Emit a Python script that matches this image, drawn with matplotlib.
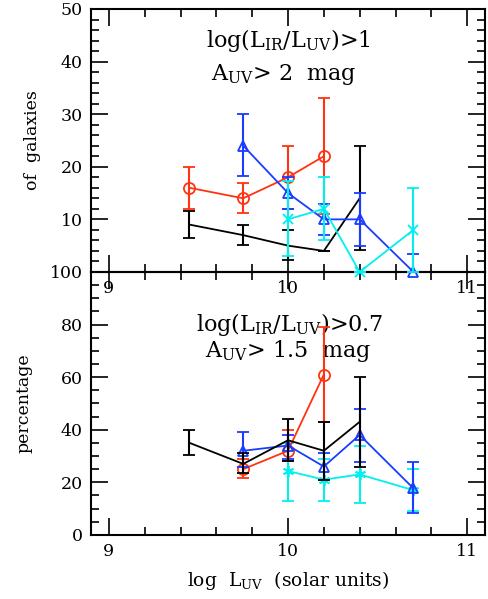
import matplotlib
matplotlib.use("Agg")
import matplotlib.pyplot as plt
from matplotlib.ticker import MultipleLocator

plt.rcParams['font.family'] = ['DejaVu Serif']
plt.rcParams['mathtext.fontset'] = 'dejavuserif'

# ---- top panel: number of galaxies ----
top_black_x = [9.45, 9.75, 10.0, 10.2, 10.4]
top_black_y = [9.0, 7.0, 5.0, 4.0, 14.0]
top_black_lo = [6.5, 5.2, 2.2, 4.0, 4.2]
top_black_hi = [11.5, 9.0, 8.0, 4.0, 24.0]

top_red_x = [9.45, 9.75, 10.0, 10.2]
top_red_y = [16.0, 14.0, 18.0, 22.0]
top_red_lo = [12.0, 11.2, 12.0, 11.0]
top_red_hi = [20.0, 17.0, 24.0, 33.0]

top_blue_x = [9.75, 10.0, 10.2, 10.4, 10.7]
top_blue_y = [24.0, 15.0, 10.0, 10.0, 0.0]
top_blue_lo = [18.2, 12.0, 7.0, 5.0, 0.0]
top_blue_hi = [30.0, 18.0, 13.0, 15.0, 3.4]

top_cyan_x = [10.0, 10.2, 10.4, 10.7]
top_cyan_y = [10.0, 12.0, 0.0, 8.0]
top_cyan_lo = [3.0, 6.0, 0.0, 0.0]
top_cyan_hi = [17.2, 18.0, 0.0, 16.0]

# ---- bottom panel: percentage ----
bot_black_x = [9.45, 9.75, 10.0, 10.2, 10.4]
bot_black_y = [35.0, 27.0, 36.0, 32.0, 43.0]
bot_black_lo = [30.3, 23.7, 28.0, 21.0, 26.0]
bot_black_hi = [40.0, 31.0, 44.0, 43.0, 60.0]

bot_red_x = [9.75, 10.0, 10.2]
bot_red_y = [25.0, 32.0, 61.0]
bot_red_lo = [21.5, 28.0, 43.0]
bot_red_hi = [28.7, 40.0, 79.0]

bot_blue_x = [9.75, 10.0, 10.2, 10.4, 10.7]
bot_blue_y = [32.0, 34.0, 26.0, 38.0, 17.7]
bot_blue_lo = [26.0, 29.0, 21.0, 27.8, 8.2]
bot_blue_hi = [39.0, 38.0, 31.0, 48.0, 27.8]

bot_cyan_x = [10.0, 10.2, 10.4, 10.7]
bot_cyan_y = [24.3, 21.0, 23.0, 17.0]
bot_cyan_lo = [13.0, 13.0, 12.0, 9.0]
bot_cyan_hi = [35.0, 29.0, 34.0, 25.0]

RED = '#ff3311'
BLUE = '#1a3cff'
CYAN = '#00f0f0'


def draw(ax, x, y, lo, hi, color, marker, ms, mfc, z):
    err = [[yy - l for yy, l in zip(y, lo)], [h - yy for yy, h in zip(y, hi)]]
    ax.errorbar(x, y, yerr=err, color=color, marker=marker, ms=ms, mfc=mfc,
                mec=color, mew=1.3, lw=1.3, elinewidth=1.5, capsize=4,
                capthick=1.5, zorder=z, clip_on=False)


def style(ax):
    ax.set_xlim(8.9, 11.1)
    ax.xaxis.set_major_locator(MultipleLocator(1))
    ax.xaxis.set_minor_locator(MultipleLocator(0.2))
    ax.tick_params(which='both', direction='in', top=True, right=True,
                   labelsize=12.5, width=1.2)
    ax.tick_params(which='major', length=12, pad=6)
    ax.tick_params(which='minor', length=6)
    for s in ax.spines.values():
        s.set_linewidth(1.5)


fig = plt.figure(figsize=(4.89, 5.99), dpi=100)
ax2 = fig.add_axes([0.186, 0.107, 0.806, 0.439])
ax1 = fig.add_axes([0.186, 0.546, 0.806, 0.439])
ax1.patch.set_visible(False)

# top
draw(ax1, top_black_x, top_black_y, top_black_lo, top_black_hi, 'black', None, 0, 'none', 3)
draw(ax1, top_red_x, top_red_y, top_red_lo, top_red_hi, RED, 'o', 8, 'none', 4)
draw(ax1, top_blue_x, top_blue_y, top_blue_lo, top_blue_hi, BLUE, '^', 7, 'none', 5)
draw(ax1, top_cyan_x, top_cyan_y, top_cyan_lo, top_cyan_hi, CYAN, 'x', 7, 'none', 6)
style(ax1)
ax1.set_ylim(0, 50)
ax1.yaxis.set_major_locator(MultipleLocator(10))
ax1.yaxis.set_minor_locator(MultipleLocator(2))
ax1.set_yticks([10, 20, 30, 40, 50])
ax1.set_ylabel('of  galaxies', fontsize=12.5, labelpad=14)
ax1.text(0.50, 0.88, r'log(L$_{\rm IR}$/L$_{\rm UV}$)>1', transform=ax1.transAxes,
         ha='center', va='center', fontsize=16)
ax1.text(0.49, 0.75, r'A$_{\rm UV}$> 2  mag', transform=ax1.transAxes,
         ha='center', va='center', fontsize=16)

# bottom
draw(ax2, bot_black_x, bot_black_y, bot_black_lo, bot_black_hi, 'black', None, 0, 'none', 6)
draw(ax2, bot_red_x, bot_red_y, bot_red_lo, bot_red_hi, RED, 'o', 8, 'none', 4)
draw(ax2, bot_blue_x, bot_blue_y, bot_blue_lo, bot_blue_hi, BLUE, '^', 7, 'none', 5)
draw(ax2, bot_cyan_x, bot_cyan_y, bot_cyan_lo, bot_cyan_hi, CYAN, (6, 2, 0), 8, 'none', 3)
style(ax2)
ax2.set_ylim(0, 100)
ax2.yaxis.set_major_locator(MultipleLocator(20))
ax2.yaxis.set_minor_locator(MultipleLocator(5))
ax2.set_ylabel('percentage', fontsize=12.5, labelpad=12)
ax2.set_xlabel(r'log  L$_{\rm UV}$  (solar units)', fontsize=13.5, labelpad=6)
ax2.text(0.505, 0.80, r'log(L$_{\rm IR}$/L$_{\rm UV}$)>0.7', transform=ax2.transAxes,
         ha='center', va='center', fontsize=16)
ax2.text(0.50, 0.70, r'A$_{\rm UV}$> 1.5  mag', transform=ax2.transAxes,
         ha='center', va='center', fontsize=16)

fig.savefig('out.png', dpi=100)
